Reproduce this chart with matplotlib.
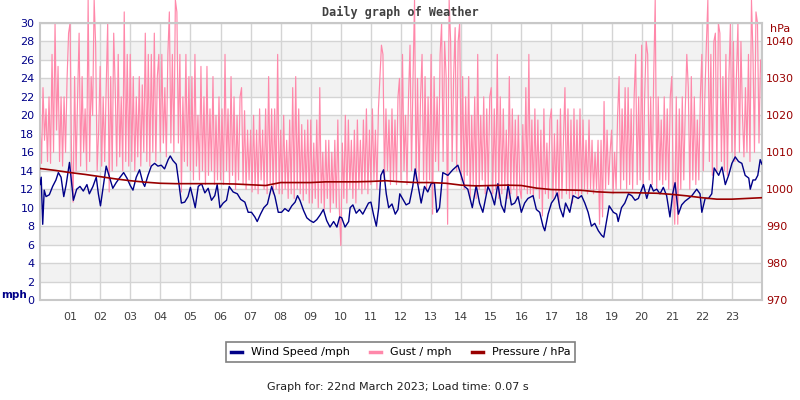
"""
Daily graph of Weather - wind speed, gust and pressure for 22nd March 2023.
"""

# ======================================================
# IMPORTS
# ======================================================
import numpy as np
import matplotlib
matplotlib.use("Agg")
import matplotlib.pyplot as plt
from matplotlib.lines import Line2D

# ======================================================
# DATA
# ======================================================
HOUR_LABELS = [f"{h:02d}" for h in range(1, 24)]

# wind speed, mph (hour of day, value)
wind_hours = [
    0.0, 0.04, 0.09, 0.14, 0.2, 0.31, 0.42, 0.53, 0.61, 0.7, 0.79, 0.87, 0.98,
    1.11, 1.22, 1.33, 1.44, 1.56, 1.64, 1.76, 1.87, 1.94, 2.01, 2.11, 2.2, 2.31,
    2.42, 2.53, 2.64, 2.78, 2.89, 3.0, 3.09, 3.2, 3.31, 3.42, 3.48, 3.59, 3.7,
    3.81, 3.92, 4.03, 4.14, 4.26, 4.33, 4.42, 4.53, 4.61, 4.7, 4.81, 4.92, 5.0,
    5.09, 5.16, 5.26, 5.37, 5.48, 5.59, 5.7, 5.81, 5.89, 5.98, 6.09, 6.2, 6.29,
    6.42, 6.56, 6.67, 6.81, 6.92, 7.03, 7.14, 7.22, 7.33, 7.44, 7.56, 7.7, 7.81,
    7.92, 8.03, 8.14, 8.26, 8.37, 8.48, 8.56, 8.64, 8.76, 8.87, 8.98, 9.09, 9.2,
    9.31, 9.42, 9.53, 9.64, 9.76, 9.87, 9.96, 10.03, 10.14, 10.26, 10.31, 10.4,
    10.51, 10.62, 10.73, 10.84, 10.92, 11.0, 11.09, 11.18, 11.26, 11.33, 11.42,
    11.51, 11.59, 11.7, 11.81, 11.9, 11.96, 12.17, 12.28, 12.39, 12.47, 12.56,
    12.67, 12.78, 12.89, 13.0, 13.11, 13.19, 13.28, 13.39, 13.56, 13.72, 13.89,
    14.0, 14.11, 14.22, 14.37, 14.5, 14.61, 14.72, 14.89, 15.0, 15.11, 15.22,
    15.33, 15.44, 15.56, 15.67, 15.78, 15.89, 16.0, 16.11, 16.22, 16.39, 16.5,
    16.61, 16.72, 16.78, 16.89, 17.0, 17.11, 17.19, 17.28, 17.39, 17.47, 17.61,
    17.72, 17.89, 18.0, 18.11, 18.22, 18.33, 18.44, 18.56, 18.67, 18.74, 18.83,
    18.92, 19.06, 19.17, 19.22, 19.33, 19.44, 19.56, 19.67, 19.78, 19.89, 20.06,
    20.17, 20.3, 20.39, 20.5, 20.61, 20.72, 20.83, 20.94, 21.03, 21.11, 21.22,
    21.33, 21.44, 21.56, 21.67, 21.83, 21.94, 22.0, 22.11, 22.22, 22.33, 22.41,
    22.56, 22.67, 22.78, 22.89, 23.0, 23.11, 23.22, 23.33, 23.44, 23.56, 23.61,
    23.7, 23.78, 23.86, 23.94, 24.0,
]
wind_mph = [
    12.5, 13.3, 8.2, 11.9, 11.2, 11.4, 12.3, 13.0, 13.8, 13.3, 11.2, 12.5, 14.9,
    10.8, 12.0, 12.3, 11.8, 12.5, 11.5, 12.3, 13.3, 11.5, 10.2, 12.5, 14.5, 13.3,
    12.1, 12.7, 13.2, 13.8, 13.2, 12.4, 11.9, 13.3, 14.1, 12.7, 12.3, 13.5, 14.5,
    14.8, 14.5, 14.6, 14.2, 15.2, 15.6, 15.1, 14.7, 12.8, 10.5, 10.6, 11.2, 12.2,
    11.0, 10.0, 12.3, 12.6, 11.6, 12.1, 10.8, 11.3, 12.5, 10.0, 10.5, 10.8, 12.3,
    11.7, 11.5, 10.9, 10.6, 9.5, 9.5, 9.0, 8.5, 9.3, 10.0, 10.4, 12.3, 11.2,
    9.5, 9.5, 9.9, 9.6, 10.2, 10.6, 11.3, 10.8, 9.7, 8.9, 8.6, 8.4, 8.7,
    9.2, 9.8, 8.6, 7.9, 8.5, 7.9, 9.0, 8.9, 7.9, 8.5, 10.0, 10.3,
    9.4, 9.8, 9.3, 10.0, 10.5, 10.6, 9.2, 8.0, 10.0, 13.5, 14.1,
    11.5, 10.0, 10.4, 9.3, 9.8, 11.5, 10.3, 10.5, 12.3, 14.2, 12.5,
    10.5, 12.3, 11.7, 12.6, 12.7, 9.5, 10.0, 13.8, 13.5, 14.1, 14.6,
    13.5, 12.3, 12.0, 10.0, 12.4, 10.5, 9.5, 12.3, 11.5, 10.3, 12.6,
    10.3, 9.5, 12.5, 10.3, 10.5, 11.2, 9.5, 10.5, 11.0, 11.3, 9.8,
    9.5, 8.0, 7.5, 9.3, 10.5, 11.0, 11.6, 10.0, 9.0, 10.5, 9.5,
    11.3, 11.0, 11.3, 10.5, 9.5, 8.0, 8.3, 7.5, 7.0, 6.8, 8.5,
    10.2, 9.5, 9.3, 8.5, 10.0, 10.5, 11.5, 11.3, 10.8, 11.0, 12.5,
    11.0, 12.5, 11.8, 12.0, 11.5, 12.2, 11.3, 9.0, 11.5, 12.7, 9.3,
    10.3, 10.7, 11.0, 11.3, 12.0, 11.5, 9.5, 11.0, 11.0, 11.5, 14.3,
    13.5, 14.4, 12.5, 13.5, 14.8, 15.5, 15.0, 14.8, 13.5, 13.2, 12.0,
    13.0, 13.0, 13.5, 15.2, 14.7,
]

# gust, mph - one reading every 3 minutes, 00:00 to 24:00 (20 per hour)
gust_mph = [
    19.5, 14.8, 23, 17.3, 20.7, 15, 22, 14.8, 26.6, 16, 30, 18.4, 25.3, 15, 22, 14.5, 22, 16, 24, 28.9,          # 00
    30, 15, 10.6, 24.2, 14, 22, 28.9, 14.5, 24.2, 16, 20.7, 14, 32.5, 15, 24.2, 20, 32.5, 27.6, 14, 18.4,        # 01
    25.3, 14.5, 22, 15, 23, 30, 11.7, 24.2, 14, 28.9, 23, 14.5, 26.6, 15.5, 22, 14, 31.2, 15, 26.6, 14.5,        # 02
    26.6, 15, 24.2, 14, 22, 15.5, 24.2, 14.5, 23.3, 16, 28.9, 15, 26.6, 14.5, 26.6, 16, 28.9, 15, 24.2, 26.6,    # 03
    16, 26.6, 17, 23, 15.5, 26.6, 31.2, 17, 26.6, 16, 32.5, 31.2, 17, 26.6, 11.7, 22, 15, 26.6, 14.5, 24.2,      # 04
    14, 24.2, 13, 26.6, 14.5, 20, 13, 25.3, 14, 22, 12.5, 25.3, 13.5, 20.7, 14, 24.2, 12.5, 20, 13, 22,          # 05
    13, 20.7, 12.5, 26.6, 14, 20.7, 12.5, 24.2, 13.5, 22, 12, 20, 13, 22, 23, 12.5, 20.5, 12, 18.4, 13,          # 06
    18.4, 11.7, 20, 12, 18.4, 11.5, 20.7, 13, 18.4, 12, 20.7, 11.5, 24.2, 12.5, 20.7, 11.5, 20.7, 12, 26.6, 11.5,  # 07
    18.4, 11.5, 20, 12, 17.3, 11, 19.5, 11.5, 23, 11, 24.2, 12, 20.7, 11.5, 19, 10.8, 18.4, 11.5, 19.5, 10.5,    # 08
    19.5, 10.5, 17, 11, 19.5, 10, 23, 10.5, 16, 9.8, 17.3, 11, 17.3, 9.5, 16, 10.5, 17.3, 10, 19.5, 9.8,         # 09
    5.9, 17, 11, 20, 10.5, 19.5, 12, 17.3, 11, 18.4, 10.5, 19.5, 12, 17.3, 11.5, 19.5, 12, 20.7, 11.5, 18.4,     # 10
    12.5, 20.7, 13, 18.4, 12, 20.7, 24.2, 27.6, 26.6, 13, 20.7, 14, 19.5, 12.5, 20.7, 13, 19.5, 12.5, 22, 24,    # 11
    13, 26.6, 14, 20, 12.5, 22, 27.6, 14, 24, 32.5, 13, 24, 12.5, 22, 26.6, 13, 24.2, 12, 22, 13,                # 12
    26.6, 9.3, 24.2, 15, 22, 14, 26.6, 30, 15, 28, 24.2, 8.2, 32.5, 28, 15, 24.2, 29.5, 14, 28, 30,              # 13
    13, 24.2, 12, 22, 13.5, 24.2, 11, 20, 12.5, 22, 11, 26.6, 12, 20, 13, 22, 11.5, 20.7, 12, 22,                # 14
    23, 11.5, 20.7, 12, 26.6, 11, 22, 11.5, 20.7, 12, 18.4, 11, 24.2, 11.5, 20.7, 12, 19.5, 11, 20, 12,          # 15
    11, 19, 12, 23, 11.5, 26.6, 11.5, 19.5, 11, 20.7, 12, 19.5, 11, 18.4, 9.1, 20.7, 11.5, 17, 11, 19.5,         # 16
    20.7, 11, 18, 11.5, 19.5, 10.5, 20.7, 11, 17.3, 23, 11.5, 20.7, 11, 19.5, 10.5, 20.7, 11.5, 19.5, 11, 20.7,  # 17
    11.5, 19.5, 12, 17.3, 11.5, 19.5, 12, 17.3, 11.5, 16, 12, 17.3, 8.2, 17.3, 9, 21.5, 12, 18.4, 12.5, 16,      # 18
    18.4, 11.5, 16, 12, 20, 24.2, 12, 20.7, 13, 23, 12, 23, 12.5, 20.7, 12, 22, 26.6, 12.5, 22, 13,              # 19
    27.6, 12.5, 22, 28, 26.6, 13, 22, 12.5, 24.2, 32.5, 12, 22, 13, 19.5, 12.5, 22, 13, 20.7, 12, 22,            # 20
    24.2, 12, 8.2, 22, 8.2, 20.7, 12, 22, 13, 20.7, 26.6, 23, 12, 24.2, 13, 22, 12.5, 19.5, 13, 22,              # 21
    26.6, 14, 22, 27.6, 32.5, 15, 26.6, 13.5, 28, 28.9, 14, 30, 28.9, 15, 24.2, 14, 26.6, 13.5, 24.2, 30,        # 22
    16, 28, 15, 24.2, 30, 16, 28, 20, 15.5, 23, 16, 26.6, 15, 32.5, 26.6, 16, 31.2, 30, 17, 26,                  # 23
    24,
]
gust_hours = np.arange(len(gust_mph)) / 20.0

# pressure, hPa - every 30 minutes
pressure_hours = [h / 2 for h in range(49)]
pressure_hpa = [
    1005.6, 1005.1, 1004.5, 1004.0, 1003.4, 1002.8, 1002.3, 1001.9, 1001.6,
    1001.5, 1001.5, 1001.5, 1001.5, 1001.4, 1001.2, 1001.0, 1001.8, 1001.8,
    1001.8, 1002.0, 1002.0, 1002.0, 1002.1, 1002.3, 1002.0, 1001.8, 1001.8,
    1001.6, 1001.1, 1000.9, 1001.0, 1001.1, 1001.0, 1000.3, 999.9, 999.8,
    999.7, 999.3, 999.1, 999.1, 999.0, 998.9, 998.6, 998.2, 997.7, 997.3,
    997.3, 997.5, 997.7,
]

# ======================================================
# STYLE
# ======================================================
WIND_COLOR = "#000088"
GUST_COLOR = "#ff88aa"
PRES_COLOR = "#990000"
GRID_COLOR = "#d4d4d4"
BAND_COLOR = "#f2f2f2"

plt.rcParams["font.family"] = "DejaVu Sans"
plt.rcParams["font.size"] = 8

# ======================================================
# PLOT
# ======================================================
fig = plt.figure(figsize=(8, 4), dpi=100)
ax = fig.add_axes([0.05, 0.25, 0.9025, 0.6925])

# alternate shaded bands every 2 mph
for lo in range(2, 30, 4):
    ax.axhspan(lo, lo + 2, color=BAND_COLOR, zorder=0, lw=0)

ax.set_xlim(0, 24)
ax.set_ylim(0, 30)
ax.set_yticks(range(0, 31, 2))
ax.set_xticks(range(1, 24))
ax.set_xticklabels(HOUR_LABELS, color="#404040")
ax.tick_params(axis="x", length=0, pad=9)
ax.tick_params(axis="y", length=0, pad=4, labelcolor=WIND_COLOR)
ax.grid(True, color=GRID_COLOR, lw=1, zorder=1)
ax.set_axisbelow(True)
for sp in ax.spines.values():
    sp.set_color("#c8c8c8")
    sp.set_linewidth(1.5)

ax.plot(gust_hours, gust_mph, color=GUST_COLOR, lw=0.85, zorder=2,
        clip_on=False)
ax.plot(wind_hours, wind_mph, color=WIND_COLOR, lw=1, zorder=3)

ax2 = ax.twinx()
ax2.set_ylim(970, 1045)
ax2.set_yticks(range(970, 1041, 10))
ax2.tick_params(axis="y", length=0, pad=3, labelcolor=PRES_COLOR)
for sp in ax2.spines.values():
    sp.set_visible(False)
ax2.plot(pressure_hours, pressure_hpa, color=PRES_COLOR, lw=1.2, zorder=4)

# axis unit labels and title
fig.text(0.002, 0.262, "mph", color=WIND_COLOR, fontweight="bold",
         ha="left", va="center", fontsize=7.5)
fig.text(0.975, 0.927, "hPa", color=PRES_COLOR, ha="center", va="center")
fig.text(0.5, 0.97, "Daily graph of Weather", family="DejaVu Sans Mono",
         fontweight="bold", color="#404040", ha="center", va="center",
         fontsize=8.5)

# legend
handles = [
    Line2D([], [], color=WIND_COLOR, lw=2.5),
    Line2D([], [], color=GUST_COLOR, lw=2.5),
    Line2D([], [], color=PRES_COLOR, lw=2.5),
]
leg = fig.legend(handles, ["Wind Speed /mph", "Gust / mph", "Pressure / hPa"],
                 loc="center", bbox_to_anchor=(0.501, 0.119), ncol=3,
                 handlelength=1.0, handletextpad=0.8, columnspacing=1.8,
                 fancybox=False, edgecolor="#808080", framealpha=1,
                 borderpad=0.45)
leg.get_frame().set_linewidth(1.2)

fig.text(0.497, 0.033, "Graph for: 22nd March 2023; Load time: 0.07 s",
         ha="center", va="center", color="#202020")

fig.savefig("out.png", dpi=100)
